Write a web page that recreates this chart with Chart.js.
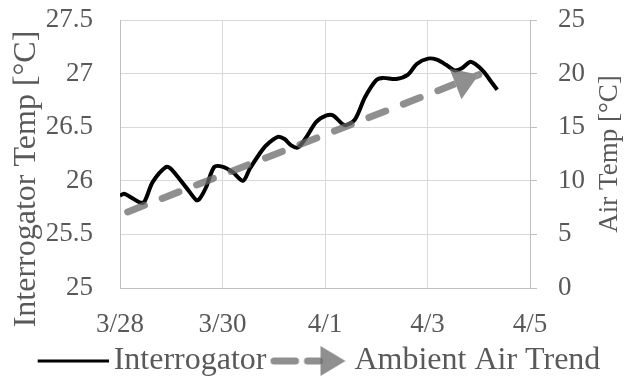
<!DOCTYPE html>
<html><head><meta charset="utf-8">
<script src="https://cdn.jsdelivr.net/npm/chart.js@4/dist/chart.umd.min.js"></script>
<style>html,body{margin:0;padding:0;background:#fff;}#wrap{width:628px;height:379px;}</style>
</head><body><div id="wrap"><canvas id="c" width="628" height="379"></canvas></div>
<script>
// ---- data ----
const tickLabels = ['3/28', '3/30', '4/1', '4/3', '4/5'];
const seriesNames = ['Interrogator', 'Ambient Air Trend'];
const leftTitle = 'Interrogator Temp [°C]';
const rightTitle = 'Air Temp [°C]';
// days since 3/28
const interrogatorDays = [0.00,0.08,0.20,0.38,0.47,0.64,0.90,1.00,1.32,1.49,1.55,1.68,1.84,2.01,2.20,2.40,2.53,2.72,2.85,3.08,3.21,3.34,3.47,3.64,3.83,4.03,4.16,4.38,4.58,4.78,5.00,5.13,5.39,5.62,5.79,6.01,6.18,6.37,6.53,6.67,6.83,6.93,7.09,7.25,7.36];
const interrogatorTemp = [25.86,25.88,25.85,25.80,25.80,25.99,26.13,26.11,25.92,25.82,25.83,25.94,26.13,26.13,26.08,26.00,26.11,26.25,26.33,26.41,26.39,26.33,26.31,26.41,26.55,26.61,26.61,26.52,26.57,26.78,26.94,26.96,26.95,26.99,27.09,27.14,27.13,27.08,27.03,27.05,27.11,27.09,27.02,26.92,26.85];
const trendDays = [0.15, 7.0];
const trendAirTemp = [7.1, 19.9];

// ---- styling ----
const FONT = '"Liberation Serif", "Times New Roman", serif';
const TXT = '#595959';
const GRID = '#d9d9d9';
const AXIS = '#bfbfbf';
const TREND = 'rgba(105,105,105,0.75)';

function makeSample(kind) {
  const c = document.createElement('canvas');
  c.width = 82; c.height = 34;
  const g = c.getContext('2d');
  if (kind === 0) {
    g.strokeStyle = '#000'; g.lineWidth = 3;
    g.beginPath(); g.moveTo(11, 17); g.lineTo(82, 17); g.stroke();
  } else {
    g.strokeStyle = TREND; g.fillStyle = TREND; g.lineWidth = 7; g.lineCap = 'round';
    g.beginPath(); g.moveTo(6.5, 17); g.lineTo(28, 17); g.stroke();
    g.beginPath(); g.moveTo(40, 17); g.lineTo(52, 17); g.stroke();
    g.beginPath(); g.moveTo(53, 2); g.lineTo(78, 17); g.lineTo(53, 32); g.closePath(); g.fill();
  }
  return c;
}

const arrowHead = {
  id: 'arrowHead',
  tri(chart) {
    const pts = chart.getDatasetMeta(1).data;
    const p0 = pts[0], p1 = pts[pts.length - 1];
    const dx = p1.x - p0.x, dy = p1.y - p0.y, L = Math.hypot(dx, dy);
    const ux = dx / L, uy = dy / L, nx = -uy, ny = ux;
    const len = 25, hw = 16.5;
    const bx = p1.x - ux * len, by = p1.y - uy * len;
    return [[p1.x, p1.y], [bx + nx * hw, by + ny * hw], [bx - nx * hw, by - ny * hw]];
  },
  beforeDatasetDraw(chart, args) {
    if (args.index !== 1) return;
    const t = this.tri(chart), ctx = chart.ctx;
    ctx.save();
    ctx.beginPath();
    ctx.rect(0, 0, chart.width, chart.height);
    ctx.moveTo(t[0][0], t[0][1]); ctx.lineTo(t[1][0], t[1][1]); ctx.lineTo(t[2][0], t[2][1]); ctx.closePath();
    ctx.clip('evenodd');
  },
  afterDatasetDraw(chart, args) {
    if (args.index !== 1) return;
    const ctx = chart.ctx;
    ctx.restore();
    const t = this.tri(chart);
    ctx.save();
    ctx.fillStyle = TREND;
    ctx.beginPath(); ctx.moveTo(t[0][0], t[0][1]); ctx.lineTo(t[1][0], t[1][1]); ctx.lineTo(t[2][0], t[2][1]); ctx.closePath(); ctx.fill();
    ctx.restore();
  }
};

const axisTitles = {
  id: 'axisTitles',
  afterDraw(chart) {
    const ctx = chart.ctx, a = chart.chartArea;
    ctx.save();
    ctx.fillStyle = TXT; ctx.textAlign = 'center'; ctx.textBaseline = 'alphabetic';
    ctx.font = '32px ' + FONT;
    ctx.translate(35, (a.top + a.bottom) / 2 + 25); ctx.rotate(-Math.PI / 2);
    ctx.fillText(leftTitle, 0, 0);
    ctx.restore();
    ctx.save();
    ctx.fillStyle = TXT; ctx.textAlign = 'center'; ctx.textBaseline = 'alphabetic';
    ctx.font = '27px ' + FONT;
    ctx.translate(617, (a.top + a.bottom) / 2); ctx.rotate(-Math.PI / 2);
    ctx.fillText(rightTitle, 0, 0);
    ctx.restore();
  }
};

const noPad = s => { s.paddingTop = 0; s.paddingBottom = 0; };

new Chart(document.getElementById('c'), {
  type: 'line',
  data: {
    datasets: [
      {
        label: seriesNames[0],
        data: interrogatorDays.map((d, i) => ({ x: d, y: interrogatorTemp[i] })),
        yAxisID: 'y', borderColor: '#000', borderWidth: 4, pointRadius: 0,
        tension: 0.3, order: 2
      },
      {
        label: seriesNames[1],
        data: trendDays.map((d, i) => ({ x: d, y: trendAirTemp[i] })),
        yAxisID: 'y2', borderColor: TREND, borderWidth: 7, borderDash: [18, 19],
        borderCapStyle: 'round', pointRadius: 0, order: 1
      }
    ]
  },
  options: {
    responsive: false, animation: false, devicePixelRatio: 1,
    layout: { padding: { top: 20, left: 10, right: 0, bottom: -8 } },
    plugins: {
      tooltip: { enabled: false },
      legend: {
        position: 'bottom',
        labels: {
          font: { family: FONT, size: 32 }, color: TXT, padding: 12,
          usePointStyle: true, pointStyleWidth: 60, boxHeight: 20,
          generateLabels: () => seriesNames.map((n, i) => ({
            text: n, pointStyle: makeSample(i), datasetIndex: i, hidden: false,
            fillStyle: 'transparent', strokeStyle: 'transparent', lineWidth: 0, fontColor: TXT
          }))
        }
      }
    },
    scales: {
      x: {
        type: 'linear', min: 0, max: 8,
        afterFit: s => { s.height = 45; },
        ticks: { stepSize: 2, callback: v => tickLabels[Math.round(v / 2)], font: { family: FONT, size: 27 }, color: TXT, padding: 21, maxRotation: 0 },
        grid: { color: GRID, drawTicks: false },
        border: { color: AXIS }
      },
      y: {
        position: 'left', min: 25, max: 27.5,
        afterFit: s => { s.width = 110; noPad(s); },
        ticks: { stepSize: 0.5, callback: v => String(+v.toFixed(1)), font: { family: FONT, size: 27 }, color: TXT, padding: 27 },
        grid: { color: GRID, drawTicks: false },
        border: { color: AXIS }
      },
      y2: {
        position: 'right', min: 0, max: 25,
        afterFit: s => { s.width = 98; noPad(s); },
        ticks: { stepSize: 5, font: { family: FONT, size: 27 }, color: TXT, padding: 21 },
        grid: { drawOnChartArea: false, color: AXIS, tickLength: 7 },
        border: { color: AXIS }
      }
    }
  },
  plugins: [arrowHead, axisTitles]
});
</script>
</body></html>
